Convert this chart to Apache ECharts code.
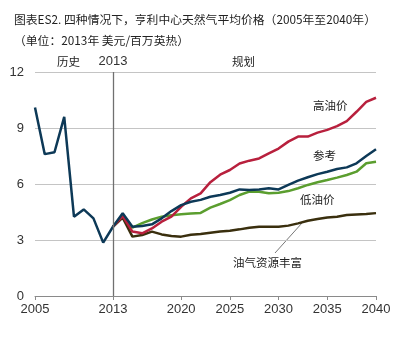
<!DOCTYPE html>
<html>
<head>
<meta charset="utf-8">
<script src="https://cdn.jsdelivr.net/npm/echarts@6/dist/echarts.min.js"></script>
<style>
html,body{margin:0;padding:0;background:#fff;}
#c{width:395px;height:340px;}
</style>
</head>
<body>
<div id="c"></div>
<script>
// ---- data ----
var years = [];
for (var y = 2005; y <= 2040; y++) years.push(String(y));
var tickYears = ['2005', '2013', '2020', '2025', '2030', '2035', '2040'];
var yTicks = [0, 3, 6, 9, 12];

// 2005-2013 history
var histPrices = [10.1, 7.6, 7.7, 9.6, 4.25, 4.64, 4.16, 2.86, 3.71];
// 2013-2040 projections
var reference = [3.71, 4.43, 3.71, 3.75, 3.84, 4.16, 4.55, 4.87, 5.05, 5.15, 5.32, 5.41, 5.53, 5.71, 5.68, 5.71, 5.77, 5.71, 5.95, 6.18, 6.36, 6.53, 6.66, 6.8, 6.89, 7.11, 7.5, 7.86];
var highOil = [3.71, 4.28, 3.45, 3.36, 3.62, 3.98, 4.25, 4.78, 5.23, 5.5, 6.1, 6.5, 6.75, 7.1, 7.25, 7.37, 7.64, 7.9, 8.27, 8.54, 8.54, 8.75, 8.9, 9.1, 9.37, 9.87, 10.4, 10.62];
var lowOil = [3.71, 4.35, 3.66, 3.9, 4.1, 4.25, 4.33, 4.38, 4.42, 4.45, 4.73, 4.93, 5.14, 5.41, 5.59, 5.59, 5.5, 5.53, 5.62, 5.77, 5.95, 6.09, 6.21, 6.34, 6.48, 6.66, 7.11, 7.19];
var richRes = [3.71, 4.2, 3.18, 3.27, 3.45, 3.3, 3.21, 3.18, 3.28, 3.32, 3.39, 3.45, 3.5, 3.57, 3.66, 3.71, 3.71, 3.71, 3.77, 3.89, 4.03, 4.12, 4.21, 4.25, 4.34, 4.37, 4.39, 4.44];

var seriesNames = ['历史', '参考', '高油价', '低油价', '油气资源丰富'];
var titleText = '图表ES2. 四种情况下，亨利中心天然气平均价格（2005年至2040年）';
var subText = '（单位：2013年 美元/百万英热）';

function padHist(arr) {
  var out = arr.slice();
  while (out.length < years.length) out.push(null);
  return out;
}
function padProj(arr) {
  var out = [];
  var start = years.length - arr.length;
  for (var i = 0; i < start; i++) out.push(null);
  return out.concat(arr);
}

var cjk = '"Noto Sans CJK SC", "Noto Sans", sans-serif';
var num = '"Liberation Sans", Arial, sans-serif';
var NAVY = '#0d3957', RED = '#b8203d', GREEN = '#5b9e2f', BROWN = '#3a2f0e';

var chart = echarts.init(document.getElementById('c'), null, {renderer: 'canvas'});
var lineCommon = {type: 'line', symbol: 'none', smooth: false, connectNulls: false, z: 3};

chart.setOption({
  animation: false,
  title: [
    {text: titleText, left: 9, top: 9, textStyle: {fontFamily: cjk, fontSize: 11.8, fontWeight: 'normal', color: '#222'}},
    {text: subText, left: 9, top: 30, textStyle: {fontFamily: cjk, fontSize: 11.8, fontWeight: 'normal', color: '#222'}}
  ],
  grid: {left: 35, right: 19, top: 72, bottom: 44, containLabel: false},
  xAxis: {
    type: 'category',
    data: years,
    boundaryGap: false,
    axisLine: {lineStyle: {color: '#8a8a8a', width: 1}},
    axisTick: {
      show: true, length: 4, lineStyle: {color: '#8a8a8a'},
      interval: function (i, v) { return tickYears.indexOf(v) >= 0; }
    },
    axisLabel: {
      interval: function (i, v) { return tickYears.indexOf(v) >= 0; },
      fontFamily: num, fontSize: 13, color: '#333', margin: 7, showMinLabel: true, showMaxLabel: true
    },
    splitLine: {show: false}
  },
  yAxis: {
    type: 'value', min: yTicks[0], max: yTicks[yTicks.length - 1], interval: 3,
    axisLine: {show: false}, axisTick: {show: false},
    axisLabel: {fontFamily: num, fontSize: 13, color: '#333', margin: 11},
    splitLine: {lineStyle: {color: '#c4c4c4', width: 1}}
  },
  series: [
    Object.assign({}, lineCommon, {
      name: seriesNames[4], data: padProj(richRes), lineStyle: {color: BROWN, width: 2.5}
    }),
    Object.assign({}, lineCommon, {
      name: seriesNames[3], data: padProj(lowOil), lineStyle: {color: GREEN, width: 2.5}
    }),
    Object.assign({}, lineCommon, {
      name: seriesNames[2], data: padProj(highOil), lineStyle: {color: RED, width: 2.5}
    }),
    Object.assign({}, lineCommon, {
      name: seriesNames[1], data: padProj(reference), lineStyle: {color: NAVY, width: 2.5}, z: 4
    }),
    Object.assign({}, lineCommon, {
      name: seriesNames[0], data: padHist(histPrices), lineStyle: {color: NAVY, width: 2.5}, z: 4,
      markLine: {
        silent: true, symbol: 'none',
        lineStyle: {color: '#707070', width: 1.3, type: 'solid'},
        label: {show: true, position: 'end', formatter: '2013', fontFamily: num, fontSize: 13, color: '#333', distance: 4},
        data: [{xAxis: '2013'}]
      }
    })
  ],
  graphic: [
    {type: 'text', left: 57, top: 56, style: {text: '历史', font: '11.5px ' + cjk, fill: '#222'}},
    {type: 'text', left: 232, top: 56, style: {text: '规划', font: '11.5px ' + cjk, fill: '#222'}},
    {type: 'text', left: 313, top: 100, style: {text: '高油价', font: '11.5px ' + cjk, fill: '#222'}},
    {type: 'text', left: 313, top: 150, style: {text: '参考', font: '11.5px ' + cjk, fill: '#222'}},
    {type: 'text', left: 300, top: 194, style: {text: '低油价', font: '11.5px ' + cjk, fill: '#222'}},
    {type: 'text', left: 233, top: 257, style: {text: '油气资源丰富', font: '11.5px ' + cjk, fill: '#222'}},
    {type: 'line', shape: {x1: 275, y1: 253, x2: 302, y2: 223}, style: {stroke: '#555', lineWidth: 0.8}}
  ]
});
</script>
</body>
</html>
